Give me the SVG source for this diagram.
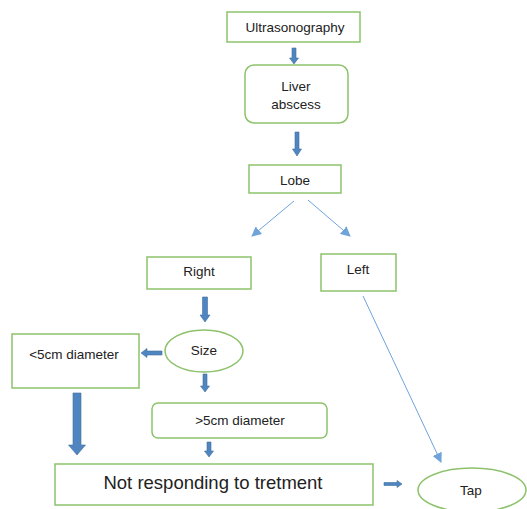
<svg xmlns="http://www.w3.org/2000/svg" width="527" height="509" viewBox="0 0 527 509">
<style>
.box{fill:#fff;stroke:#8DC26B;stroke-width:1.5}
.t{font-family:"Liberation Sans",Arial,sans-serif;font-size:13.5px;fill:#222;text-anchor:middle;dominant-baseline:central}
.big{font-size:18.5px}
.blk{fill:#4F86C1;stroke:#41719C;stroke-width:0.6}
.thin{stroke:#6FA3DA;stroke-width:1;fill:none}
</style>
<defs>
<marker id="ah" markerWidth="10" markerHeight="10" refX="9" refY="5" orient="auto" markerUnits="userSpaceOnUse">
<path d="M0,0 L10,5 L0,10 Z" fill="#6FA3DA"/>
</marker>
</defs>
<g id="ultrasonography"><rect class="box" x="227" y="12" width="133" height="30"/><text class="t" x="295" y="27">Ultrasonography</text></g>
<g id="liver-abscess"><rect class="box" x="245" y="65" width="103" height="58" rx="9"/><text class="t" x="296" y="86">Liver</text><text class="t" x="296" y="104">abscess</text></g>
<g id="lobe"><rect class="box" x="249" y="165" width="92" height="28"/><text class="t" x="295" y="180">Lobe</text></g>
<g id="right"><rect class="box" x="147" y="257" width="104" height="32"/><text class="t" x="199" y="271">Right</text></g>
<g id="left"><rect class="box" x="321" y="254" width="75" height="37"/><text class="t" x="358" y="269">Left</text></g>
<g id="size"><ellipse class="box" cx="204" cy="351" rx="39" ry="21"/><text class="t" x="204" y="350">Size</text></g>
<g id="lt5"><rect class="box" x="12" y="334" width="127" height="54"/><text class="t" x="74" y="354">&lt;5cm diameter</text></g>
<g id="gt5"><rect class="box" x="152" y="403" width="175" height="35" rx="6"/><text class="t" x="240" y="420">&gt;5cm diameter</text></g>
<g id="not-responding"><rect class="box" x="55" y="464" width="318" height="41"/><text class="t big" x="213" y="482">Not responding to tretment</text></g>
<g id="tap"><ellipse class="box" cx="472" cy="490" rx="54" ry="22"/><text class="t" x="471" y="490">Tap</text></g>
<g id="connectors">
<path class="blk" d="M292,48 H296 V58 H298.5 L294,64 L289.5,58 H292 Z"/>
<path class="blk" d="M295,132 H299 V149 H301.5 L297,156 L292.5,149 H295 Z"/>
<path class="blk" d="M202.5,297 H207.5 V315 H210 L205,322 L200,315 H202.5 Z"/>
<path class="blk" d="M162,351 V355 H147 V357.5 L141,353 L147,348.5 V351 Z"/>
<path class="blk" d="M203,374 H207 V386 H209.5 L205,392 L200.5,386 H203 Z"/>
<path class="blk" d="M207,442 H211 V451 H213.5 L209,457 L204.5,451 H207 Z"/>
<path class="blk" d="M73,393 H81 V445 H85.5 L77,455 L68.5,445 H73 Z"/>
<path class="blk" d="M384,482.5 H397 V480.5 L402,484 L397,487.5 V485.5 H384 Z"/>
<line class="thin" x1="294" y1="201" x2="252" y2="236" marker-end="url(#ah)"/>
<line class="thin" x1="308" y1="200" x2="350" y2="236" marker-end="url(#ah)"/>
<line class="thin" x1="363" y1="296" x2="441" y2="462" marker-end="url(#ah)"/>
</g>
</svg>
